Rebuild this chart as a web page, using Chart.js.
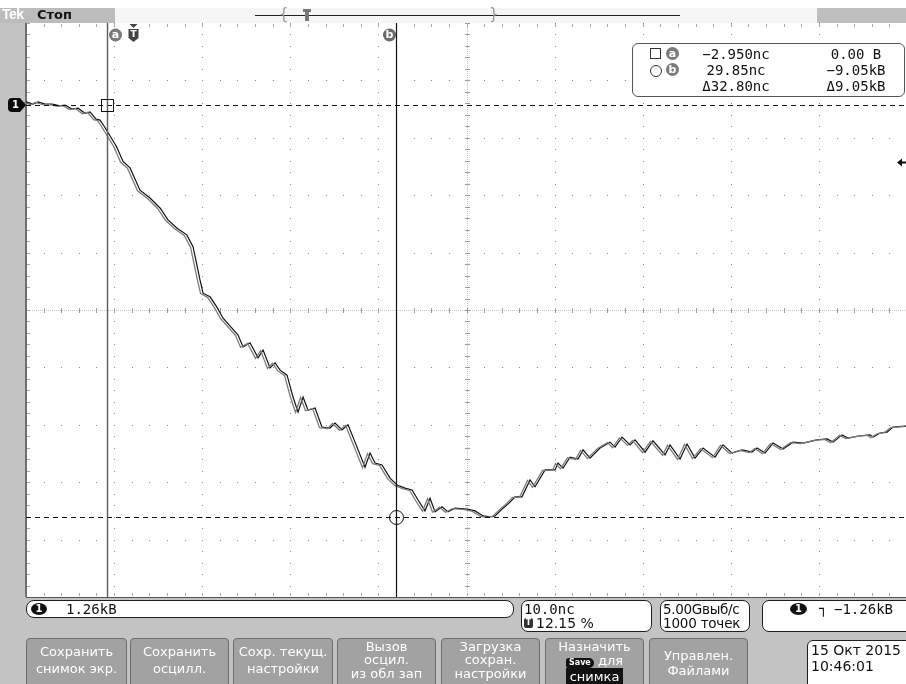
<!DOCTYPE html>
<html>
<head>
<meta charset="utf-8">
<script src="https://cdn.jsdelivr.net/npm/chart.js@4.4.0/dist/chart.umd.min.js"></script>
<style>
html,body{margin:0;padding:0}
body{width:906px;height:684px;overflow:hidden;position:relative;background:#c3c3c3;font-family:"DejaVu Sans",sans-serif}
#scope{position:absolute;left:0;top:0}
.abs{position:absolute;white-space:nowrap}
.box{position:absolute;background:#fff;border:1px solid #1e1e1e;border-radius:7px;box-sizing:border-box}
.mono{font-family:"DejaVu Sans Mono",monospace}
.btn{position:absolute;top:638px;height:52px;background:#a2a2a2;border:1px solid #6c6c6c;border-radius:4px;box-sizing:border-box;color:#fff;font-size:13px;text-align:center}
.btn div{position:absolute;left:0;right:0;white-space:nowrap}
.chip{display:inline-block;background:#111;color:#fff;border-radius:7px;font-weight:bold;text-align:center}
</style>
</head>
<body>
<canvas id="scope" width="910" height="684"></canvas>

<!-- status bar -->
<div class="abs" style="left:0;top:0;width:906px;height:8px;background:#fff"></div>
<div class="abs" style="left:0;top:8px;width:115px;height:15px;background:#bcbcbc"></div>
<div class="abs" style="left:115px;top:8px;width:702px;height:15px;background:#f6f6f6"></div>
<div class="abs" style="left:817px;top:8px;width:89px;height:15px;background:#bfbfbf"></div>
<div class="abs" style="left:2px;top:6px;font:bold 14px 'Liberation Sans',sans-serif;color:#fff;letter-spacing:-0.5px">Tek</div>
<div class="abs" style="left:37px;top:7px;font:bold 13px 'DejaVu Sans',sans-serif;color:#111">Стоп</div>
<div class="abs" style="left:255px;top:15px;width:425px;height:1px;background:#222"></div>
<div class="abs" style="left:279px;top:5px;font:15px 'DejaVu Sans',sans-serif;color:#999">{</div>
<div class="abs" style="left:489px;top:5px;font:15px 'DejaVu Sans',sans-serif;color:#999">}</div>
<div class="abs" style="left:303px;top:9px;width:8px;height:3px;background:#777"></div>
<div class="abs" style="left:305px;top:12px;width:4px;height:9px;background:#777"></div>

<!-- cursor readout -->
<div class="box" style="left:632px;top:43px;width:273px;height:54px;border-color:#555;border-radius:6px"></div>
<div class="abs" style="left:650px;top:48px;width:9px;height:9px;border:1px solid #333"></div>
<div class="abs" style="left:650px;top:65px;width:10px;height:10px;border:1px solid #333;border-radius:50%"></div>
<div class="abs" style="left:666px;top:47px;width:13px;height:13px;border-radius:50%;background:#7a7a7a;color:#fff;font:bold 11px 'DejaVu Sans';text-align:center;line-height:13px">a</div>
<div class="abs" style="left:666px;top:63px;width:13px;height:13px;border-radius:50%;background:#7a7a7a;color:#fff;font:bold 11px 'DejaVu Sans';text-align:center;line-height:13px">b</div>
<div class="abs mono" style="left:686px;width:100px;top:46px;font-size:14px;text-align:center;color:#111">−2.950nc</div>
<div class="abs mono" style="left:686px;width:100px;top:62px;font-size:14px;text-align:center;color:#111">29.85nc</div>
<div class="abs mono" style="left:686px;width:100px;top:78px;font-size:14px;text-align:center;color:#111">Δ32.80nc</div>
<div class="abs mono" style="left:806px;width:100px;top:46px;font-size:14px;text-align:center;color:#111">0.00 В</div>
<div class="abs mono" style="left:806px;width:100px;top:62px;font-size:14px;text-align:center;color:#111">−9.05kВ</div>
<div class="abs mono" style="left:806px;width:100px;top:78px;font-size:14px;text-align:center;color:#111">Δ9.05kВ</div>

<!-- readouts -->
<div class="box" style="left:26px;top:600px;width:488px;height:18px;border-radius:8px"></div>
<div class="abs" style="left:31px;top:603px;width:16px;height:12px;border-radius:50%;background:#111;color:#fff;font:bold 10px 'DejaVu Sans';text-align:center;line-height:12px">1</div>
<div class="abs mono" style="left:66px;top:601px;font-size:14px;color:#111">1.26kВ</div>

<div class="box" style="left:521px;top:600px;width:131px;height:32px"></div>
<div class="abs mono" style="left:524px;top:601px;font-size:14px;color:#111">10.0nc</div>
<div class="abs" style="left:524px;top:618px;width:9px;height:10px;background:#333;border-radius:2px;color:#fff;font:bold 8px 'DejaVu Sans';text-align:center;line-height:10px">T</div>
<div class="abs" style="left:536px;top:615px;font:14px 'DejaVu Sans';color:#111">12.15 %</div>

<div class="box" style="left:660px;top:600px;width:90px;height:32px"></div>
<div class="abs" style="left:663px;top:601px;font:13.5px 'DejaVu Sans';color:#111;letter-spacing:-0.3px">5.00Gвыб/с</div>
<div class="abs" style="left:663px;top:615px;font:13.5px 'DejaVu Sans';color:#111;letter-spacing:-0.2px">1000 точек</div>

<div class="box" style="left:762px;top:600px;width:160px;height:32px"></div>
<div class="abs" style="left:790px;top:603px;width:17px;height:12px;border-radius:50%;background:#111;color:#fff;font:bold 10px 'DejaVu Sans';text-align:center;line-height:12px">1</div>
<div class="abs" style="left:819px;top:600px;font:bold 14px 'DejaVu Sans';color:#111">┐</div>
<div class="abs mono" style="left:834px;top:601px;font-size:14px;color:#111">−1.26kВ</div>

<!-- soft keys -->
<div class="btn" style="left:26px;width:101px"><div style="top:5px">Сохранить</div><div style="top:22px">снимок экр.</div></div>
<div class="btn" style="left:130px;width:99px"><div style="top:5px">Сохранить</div><div style="top:22px">осцилл.</div></div>
<div class="btn" style="left:233px;width:100px"><div style="top:5px">Сохр. текущ.</div><div style="top:22px">настройки</div></div>
<div class="btn" style="left:337px;width:99px"><div style="top:0px">Вызов</div><div style="top:13px">осцил.</div><div style="top:27px">из обл зап</div></div>
<div class="btn" style="left:441px;width:99px"><div style="top:0px">Загрузка</div><div style="top:13px">сохран.</div><div style="top:27px">настройки</div></div>
<div class="btn" style="left:545px;width:99px"><div style="top:0px">Назначить</div>
  <div style="top:14px"><span class="chip" style="font-size:8px;line-height:10px;padding:0 3px;border-radius:4px 7px 7px 4px">Save</span> для</div>
  <div style="top:30px"><span style="background:#111;padding:1px 4px 6px 4px">снимка</span></div></div>
<div class="btn" style="left:649px;width:99px"><div style="top:9px">Управлен.</div><div style="top:24px">Файлами</div></div>

<div class="box" style="left:807px;top:640px;width:105px;height:52px;border-radius:6px"></div>
<div class="abs" style="left:811px;top:642px;font:14px 'DejaVu Sans';color:#111">15 Окт 2015</div>
<div class="abs" style="left:811px;top:658px;font:14px 'DejaVu Sans';color:#111">10:46:01</div>

<script>
// Acquisition settings
const TIME_PER_DIV = 10;      // ns per division
const VOLTS_PER_DIV = 1.26;   // kV per division
const H_DIVS = 10;
const V_DIVS = 10;
const TRIGGER_POS = 0.1215;   // fraction of record before trigger
const GROUND_DIVS = 3.571;    // channel 1 ground position above centre, divisions
const TRIGGER_LEVEL = -1.26;  // kV

// Cursors: [a, b]
const cursorTimes = [-2.95, 29.85];   // ns
const cursorLevels = [0.00, -9.05];   // kV

// Channel 1 waveform: time (ns) and voltage (kV)
const timeNs = [
  -12.15,-11.35,-10.78,-9.99,-9.19,-8.29,-7.72,-6.92,-6.24,-5.45,
  -4.88,-4.20,-3.75,-3.29,-2.95,-1.85,-1.14,-0.34,0.79,1.93,
  3.06,3.97,4.96,6.10,6.81,7.60,7.95,8.74,9.50,10.22,
  11.20,11.92,12.49,13.28,14.19,14.76,15.55,16.12,16.69,17.48,
  18.16,18.73,19.30,19.86,20.66,21.45,22.36,22.93,23.72,24.40,
  25.20,26.33,26.90,27.47,28.26,29.17,29.97,30.87,31.67,32.35,
  33.14,33.71,34.28,35.07,35.75,36.54,37.91,38.82,39.73,40.52,
  41.09,42.00,42.68,43.36,44.15,45.06,45.63,46.77,47.90,48.24,
  48.81,49.60,50.51,51.08,51.87,53.01,54.14,54.71,55.51,56.41,
  56.98,58.12,59.02,60.39,60.95,62.09,62.88,63.79,64.70,66.06,
  66.97,67.99,69.13,70.26,70.83,71.74,72.64,73.78,74.91,76.05,
  77.64,78.77,79.46,80.48,81.16,82.52,83.66,84.00,84.79,85.58,
  86.27,87.63,87.85
];
const ch1kV = [
  0.07,0.02,0.07,0.02,0.02,-0.02,0.00,-0.09,-0.07,-0.18,
  -0.15,-0.31,-0.33,-0.46,-0.57,-0.92,-1.24,-1.38,-1.87,-2.04,
  -2.26,-2.52,-2.70,-2.85,-3.11,-3.84,-4.13,-4.21,-4.43,-4.68,
  -4.89,-5.05,-5.31,-5.22,-5.55,-5.38,-5.77,-5.66,-5.82,-5.93,
  -6.41,-6.74,-6.41,-6.70,-6.65,-7.07,-7.09,-6.98,-7.13,-7.02,
  -7.40,-7.95,-7.64,-7.86,-7.90,-8.19,-8.34,-8.41,-8.45,-8.67,
  -8.91,-8.63,-8.93,-8.82,-8.93,-8.85,-8.87,-8.91,-9.02,-9.04,
  -9.02,-8.85,-8.74,-8.60,-8.60,-8.23,-8.38,-8.01,-8.01,-7.86,
  -7.97,-7.73,-7.77,-7.57,-7.75,-7.53,-7.40,-7.51,-7.29,-7.46,
  -7.35,-7.62,-7.37,-7.68,-7.46,-7.77,-7.44,-7.75,-7.53,-7.73,
  -7.46,-7.64,-7.57,-7.62,-7.53,-7.64,-7.42,-7.55,-7.40,-7.42,
  -7.35,-7.33,-7.40,-7.24,-7.31,-7.26,-7.24,-7.29,-7.20,-7.18,
  -7.07,-7.05,-7.05
];

const xMin = -TRIGGER_POS * H_DIVS * TIME_PER_DIV;
const xMax = xMin + H_DIVS * TIME_PER_DIV;
const yMax = (V_DIVS / 2 - GROUND_DIVS) * VOLTS_PER_DIV;
const yMin = yMax - V_DIVS * VOLTS_PER_DIV;

const points = timeNs.map((t, i) => ({ x: t, y: ch1kV[i] }));

function drawGraticule(chart) {
  const { ctx, chartArea: a, scales: { x, y } } = chart;
  ctx.save();
  ctx.fillStyle = '#ffffff';
  ctx.fillRect(a.left, a.top, a.right - a.left, a.bottom - a.top);
  const xs = [], ys = [];
  for (let k = 0; k <= H_DIVS; k++) xs.push(x.getPixelForValue(xMin + k * TIME_PER_DIV));
  for (let j = 0; j <= V_DIVS; j++) ys.push(y.getPixelForValue(yMax - j * VOLTS_PER_DIV));
  const dx = (xs[1] - xs[0]) / 5, dy = (ys[1] - ys[0]) / 5;

  // dotted division lines
  ctx.fillStyle = '#8c8c8c';
  for (let k = 1; k < H_DIVS; k++) {
    const px = Math.round(xs[k]);
    for (let m = 0; m <= V_DIVS * 5; m++) ctx.fillRect(px, Math.round(ys[0] + m * dy), 1, 1);
  }
  for (let j = 1; j < V_DIVS; j++) {
    const py = Math.round(ys[j]);
    for (let m = 0; m <= H_DIVS * 5; m++) ctx.fillRect(Math.round(xs[0] + m * dx), py, 1, 1);
  }

  // centre cross with minor ticks
  const cx = Math.round(xs[H_DIVS / 2]), cy = Math.round(ys[V_DIVS / 2]);
  ctx.fillStyle = '#c4c4c4';
  for (let py = Math.round(a.top); py < a.bottom; py += 2) ctx.fillRect(cx, py, 1, 1);
  for (let px = Math.round(a.left); px < a.right; px += 2) ctx.fillRect(px, cy, 1, 1);
  ctx.fillStyle = '#9a9a9a';
  for (let m = 0; m <= V_DIVS * 5; m++) ctx.fillRect(cx - 2, Math.round(ys[0] + m * dy), 5, 1);
  for (let m = 0; m <= H_DIVS * 5; m++) ctx.fillRect(Math.round(xs[0] + m * dx), cy - 2, 1, 5);

  // frame ticks
  ctx.fillStyle = '#a8a8a8';
  for (let m = 0; m <= V_DIVS * 5; m++) ctx.fillRect(Math.round(a.left) + 1, Math.round(ys[0] + m * dy), 3, 1);
  for (let m = 0; m <= H_DIVS * 5; m++) {
    ctx.fillRect(Math.round(xs[0] + m * dx), Math.round(a.top) + 1, 1, 3);
    ctx.fillRect(Math.round(xs[0] + m * dx), Math.round(a.bottom) - 4, 1, 3);
  }

  // frame
  ctx.fillStyle = '#6e6e6e';
  ctx.fillRect(Math.round(a.left) - 1, a.top, 2, a.bottom - a.top);
  ctx.fillStyle = '#555';
  ctx.fillRect(a.left, Math.round(a.top) - 1, a.right - a.left, 1);
  ctx.fillRect(a.left, Math.round(a.bottom), a.right - a.left, 1);
  ctx.restore();
}

function label(ctx, cx, cy, r, fill, text) {
  ctx.beginPath();
  ctx.arc(cx, cy, r, 0, Math.PI * 2);
  ctx.fillStyle = fill;
  ctx.fill();
  ctx.fillStyle = '#fff';
  ctx.font = 'bold 11px "DejaVu Sans"';
  ctx.textAlign = 'center';
  ctx.textBaseline = 'middle';
  ctx.fillText(text, cx, cy + 0.5);
}

function drawCursors(chart) {
  const { ctx, chartArea: a, scales: { x, y } } = chart;
  const xa = Math.round(x.getPixelForValue(cursorTimes[0])) + 0.5;
  const xb = Math.round(x.getPixelForValue(cursorTimes[1])) + 0.5;
  const ya = Math.round(y.getPixelForValue(cursorLevels[0])) + 0.5;
  const yb = Math.round(y.getPixelForValue(cursorLevels[1])) + 0.5;
  ctx.save();

  // horizontal cursors
  ctx.strokeStyle = '#111';
  ctx.lineWidth = 1;
  ctx.setLineDash([5, 4]);
  [ya, yb].forEach(py => {
    ctx.beginPath(); ctx.moveTo(a.left, py); ctx.lineTo(a.right, py); ctx.stroke();
  });
  ctx.setLineDash([]);

  // vertical cursors
  ctx.strokeStyle = '#5c5c5c';
  ctx.lineWidth = 1.4;
  ctx.beginPath(); ctx.moveTo(xa, a.top); ctx.lineTo(xa, a.bottom); ctx.stroke();
  ctx.strokeStyle = '#111';
  ctx.lineWidth = 1.2;
  ctx.beginPath(); ctx.moveTo(xb, a.top); ctx.lineTo(xb, a.bottom); ctx.stroke();

  // cursor intersections
  ctx.lineWidth = 1;
  ctx.strokeStyle = '#111';
  ctx.strokeRect(xa - 6, ya - 6, 12, 12);
  ctx.beginPath(); ctx.arc(xb, yb, 7, 0, Math.PI * 2); ctx.stroke();

  // cursor and trigger labels along the top
  label(ctx, xa + 8, 35, 6.5, '#7a7a7a', 'a');
  label(ctx, xb - 7, 35, 6.5, '#6a6a6a', 'b');
  const xt = Math.round(x.getPixelForValue(0)) + 0.5;
  ctx.fillStyle = '#444';
  ctx.beginPath(); ctx.moveTo(xt - 4, 24); ctx.lineTo(xt + 4, 24); ctx.lineTo(xt, 28); ctx.closePath(); ctx.fill();
  ctx.beginPath();
  ctx.moveTo(xt - 5, 29); ctx.lineTo(xt + 5, 29); ctx.lineTo(xt + 5, 38);
  ctx.lineTo(xt, 42); ctx.lineTo(xt - 5, 38); ctx.closePath(); ctx.fill();
  ctx.fillStyle = '#fff';
  ctx.font = 'bold 9px "DejaVu Sans"';
  ctx.textAlign = 'center'; ctx.textBaseline = 'middle';
  ctx.fillText('T', xt, 34.5);

  // channel 1 ground marker
  const yg = Math.round(y.getPixelForValue(0));
  ctx.fillStyle = '#0a0a0a';
  ctx.beginPath();
  ctx.moveTo(12, yg - 7); ctx.lineTo(20, yg - 7); ctx.lineTo(26, yg);
  ctx.lineTo(20, yg + 7); ctx.lineTo(12, yg + 7);
  ctx.quadraticCurveTo(8, yg + 7, 8, yg + 3); ctx.lineTo(8, yg - 3);
  ctx.quadraticCurveTo(8, yg - 7, 12, yg - 7);
  ctx.closePath(); ctx.fill();
  ctx.fillStyle = '#fff';
  ctx.font = 'bold 10px "DejaVu Sans"';
  ctx.fillText('1', 15.5, yg + 0.5);

  // trigger level marker
  const ytl = Math.round(y.getPixelForValue(TRIGGER_LEVEL)) + 0.5;
  ctx.fillStyle = '#111';
  ctx.beginPath(); ctx.moveTo(897, ytl); ctx.lineTo(902, ytl - 4); ctx.lineTo(902, ytl + 4); ctx.closePath(); ctx.fill();
  ctx.fillRect(901, ytl - 1, 5, 2);
  ctx.restore();
}

const scopeFace = {
  id: 'scopeFace',
  beforeDatasetsDraw(chart) { drawGraticule(chart); },
  beforeDatasetDraw(chart, args) {
    if (args.index === 0) { chart.ctx.save(); chart.ctx.translate(-2.5, 0.5); }
  },
  afterDatasetDraw(chart, args) {
    if (args.index === 0) chart.ctx.restore();
  },
  afterDatasetsDraw(chart) { drawCursors(chart); }
};

new Chart(document.getElementById('scope'), {
  type: 'line',
  data: {
    datasets: [
      { label: 'CH1 persist', data: points, borderColor: '#7c7c7c', borderWidth: 1.3, pointRadius: 0, tension: 0 },
      { label: 'CH1', data: points, borderColor: '#111111', borderWidth: 1.2, pointRadius: 0, tension: 0 }
    ]
  },
  options: {
    responsive: false,
    animation: false,
    devicePixelRatio: 1,
    layout: { padding: { left: 26, top: 23, right: 3, bottom: 87 } },
    scales: {
      x: { type: 'linear', min: xMin, max: xMax, display: false },
      y: { type: 'linear', min: yMin, max: yMax, display: false }
    },
    plugins: { legend: { display: false }, tooltip: { enabled: false } }
  },
  plugins: [scopeFace]
});
</script>
</body>
</html>
